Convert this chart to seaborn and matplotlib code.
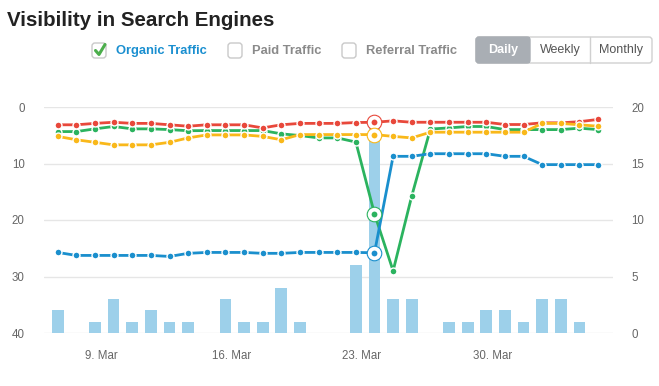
import numpy as np
import pandas as pd
import matplotlib
matplotlib.use("Agg")
import matplotlib.pyplot as plt
import seaborn as sns
from matplotlib.patches import FancyBboxPatch, Rectangle

# ---------------- data ----------------
days = list(range(30))
tick_days = [2.32, 9.32, 16.32, 23.32]
tick_labels = ["9. Mar", "16. Mar", "23. Mar", "30. Mar"]
left_ticks = [0, 10, 20, 30, 40]
right_ticks = [0, 5, 10, 15, 20]

visits = [2, 0, 1, 3, 1, 2, 1, 1, 0, 3, 1, 1, 4, 1, 0, 0, 6, 19, 3, 3,
          0, 1, 1, 2, 2, 1, 3, 3, 1, 0]

red_rank = [3.15, 3.15, 2.9, 2.7, 2.9, 2.9, 3.15, 3.4, 3.15, 3.15,
            3.15, 3.7, 3.15, 2.9, 2.9, 2.9, 2.75, 2.7, 2.45, 2.7,
            2.7, 2.7, 2.7, 2.7, 3.1, 3.1, 2.8, 2.8, 2.6, 2.2]
green_rank = [4.35, 4.35, 3.87, 3.45, 3.87, 3.87, 4.0, 4.2, 4.17, 4.17,
              4.17, 4.17, 4.75, 5.05, 5.47, 5.47, 6.2, 18.9, 29.0, 15.75,
              3.9, 3.7, 3.45, 3.45, 4.0, 4.0, 4.0, 4.0, 3.75, 4.0]
yellow_rank = [5.2, 5.8, 6.25, 6.7, 6.7, 6.7, 6.25, 5.47, 4.94, 4.94,
               4.94, 5.2, 5.8, 4.88, 4.88, 4.88, 4.88, 4.88, 5.2, 5.47,
               4.46, 4.46, 4.46, 4.46, 4.46, 4.46, 2.9, 2.9, 3.15, 3.4]
blue_rank = [25.74, 26.27, 26.27, 26.27, 26.27, 26.27, 26.45, 25.9, 25.74, 25.74,
             25.74, 25.9, 25.9, 25.74, 25.74, 25.74, 25.74, 25.8, 8.73, 8.73,
             8.27, 8.27, 8.27, 8.27, 8.73, 8.73, 10.2, 10.2, 10.2, 10.2]
hover_index = 17

series = [
    ("green", green_rank, "#2bb35f"),
    ("red", red_rank, "#e8483b"),
    ("yellow", yellow_rank, "#f9b81a"),
    ("blue", blue_rank, "#1a8fcd"),
]

# ---------------- figure ----------------
sns.set_theme(style="white")
plt.rcParams['font.family'] = ['Liberation Sans', 'DejaVu Sans']

W, H = 659, 386
fig = plt.figure(figsize=(W / 100, H / 100), dpi=100)
fig.patch.set_facecolor("white")

over = fig.add_axes([0, 0, 1, 1])
over.set_xlim(0, W)
over.set_ylim(H, 0)
over.axis("off")

axb = fig.add_axes([44 / W, 1 - 333 / H, (613 - 44) / W, (333 - 107) / H])
sns.barplot(x=days, y=visits, ax=axb, color="#9dd0ea", width=0.63,
            native_scale=True, saturation=1, linewidth=0, zorder=2)
axl = axb.twinx()

axb.set_ylim(0, 20)
axb.set_yticks(right_ticks)
axb.set_xlim(-0.735, 29.8)
axb.set_xticks(tick_days)
axb.set_xticklabels(tick_labels)
axb.set_xlabel("")
axb.set_ylabel("")
axb.set_axisbelow(True)
axb.yaxis.grid(True, color="#e6e6e6", lw=1)
axb.xaxis.grid(False)
for s in axb.spines.values():
    s.set_visible(False)

for name, vals, col in series:
    sns.lineplot(x=days, y=vals, ax=axl, color=col, lw=2, marker="o",
                 markersize=5, markeredgecolor="white", markeredgewidth=1.0,
                 zorder=3)
for name, vals, col in series:
    axl.plot([days[hover_index]], [vals[hover_index]], "o", ms=10.5,
             mfc="white", mec=col, mew=0.8, zorder=6)
    axl.plot([days[hover_index]], [vals[hover_index]], "o", ms=4.2,
             mfc=col, mec=col, mew=0, zorder=7)
axl.set_ylim(40, 0)
axl.set_yticks(left_ticks)
axl.set_ylabel("")
for s in axl.spines.values():
    s.set_visible(False)
axl.grid(False)

# axis sides: bars on the right axis, rankings on the left
axb.yaxis.tick_right()
axb.yaxis.set_label_position("right")
axl.yaxis.tick_left()
axl.yaxis.set_label_position("left")
axb.tick_params(axis="both", length=0, labelsize=8.3, colors="#666666")
axb.tick_params(axis="y", pad=13)
axb.tick_params(axis="x", pad=12)
axl.tick_params(axis="y", length=0, labelsize=8.3, colors="#666666", pad=14)

# ---------------- header ----------------
over.text(7, 21, "Visibility in Search Engines", fontsize=14.8, weight="bold",
          color="#222222", va="center", ha="left")

def checkbox(x):
    over.add_patch(FancyBboxPatch((x, 43), 14, 15,
                                  boxstyle="round,pad=0,rounding_size=3",
                                  fc="white", ec="#c9c9c9", lw=1))

checkbox(92)
over.plot([95.5, 99, 105], [50.5, 54.5, 44.5], color="#4cae4c", lw=2.2,
          solid_capstyle="round")
over.text(116, 51, "Organic Traffic", fontsize=9.3, weight="bold",
          color="#1a8fd0", va="center", ha="left")
checkbox(228)
over.text(252, 51, "Paid Traffic", fontsize=9.3, weight="bold",
          color="#8a8a8a", va="center", ha="left")
checkbox(342)
over.text(366, 51, "Referral Traffic", fontsize=9.3, weight="bold",
          color="#8a8a8a", va="center", ha="left")

over.add_patch(FancyBboxPatch((476, 37), 176, 26,
                              boxstyle="round,pad=0,rounding_size=3",
                              fc="white", ec="#d0d0d0", lw=1))
over.add_patch(FancyBboxPatch((476, 37), 54, 26,
                              boxstyle="round,pad=0,rounding_size=3",
                              fc="#a9aeb4", ec="#a9aeb4", lw=1))
over.add_patch(Rectangle((524, 37), 6, 26, fc="#a9aeb4", ec="none"))
over.plot([590, 590], [37, 63], color="#d0d0d0", lw=1)
over.text(503, 50, "Daily", fontsize=9, weight="bold", color="white",
          va="center", ha="center")
over.text(560, 50, "Weekly", fontsize=9, color="#555555",
          va="center", ha="center")
over.text(621, 50, "Monthly", fontsize=9, color="#555555",
          va="center", ha="center")

fig.savefig("out.png", dpi=100, facecolor="white")
